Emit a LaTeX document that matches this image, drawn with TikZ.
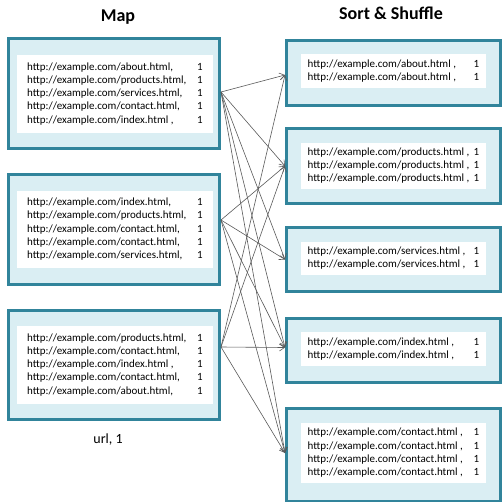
\documentclass[tikz,border=0pt]{standalone}
\usepackage{fontspec}
\setmainfont{Carlito}
\usetikzlibrary{arrows.meta}

\definecolor{boxedge}{HTML}{31849B}
\definecolor{boxfill}{HTML}{DAEEF3}
\definecolor{arrowgray}{HTML}{595959}

\begin{document}
\begin{tikzpicture}[
    x=1pt, y=-1pt, % pixel-like units, y downwards
    map_box/.style={draw=boxedge, fill=boxfill, line width=3pt, inner sep=0pt},
    rec_box/.style={fill=white, inner sep=0pt, font=\fontsize{11}{13.3}\selectfont},
    head_text/.style={font=\fontsize{18}{21}\selectfont\bfseries},
    flow_arrow/.style={-{Straight Barb[length=5pt,width=7pt]}, arrowgray, line width=0.6pt}
]
\useasboundingbox (0,0) rectangle (503,501);

% Column widths of the records
\def\lcol{170pt}
\def\rcol{166pt}

% Headings
\node[head_text] (maphead) at (118,17) {Map};
\node[head_text] (sorthead) at (391,13) {Sort \& Shuffle};

% Map boxes
\node[map_box, minimum width=211pt, minimum height=110pt] (m1) at (114,93.5) {};
\node[rec_box, minimum width=196pt, minimum height=78pt] (m1t) at (115,94) {%
\begin{tabular}{@{}p{\lcol}@{}l@{}}
http://example.com/about.html, & 1\\
http://example.com/products.html, & 1\\
http://example.com/services.html, & 1\\
http://example.com/contact.html, & 1\\
http://example.com/index.html , & 1
\end{tabular}};

\node[map_box, minimum width=211pt, minimum height=110pt] (m2) at (114,229.5) {};
\node[rec_box, minimum width=196pt, minimum height=77pt] (m2t) at (115,229.5) {%
\begin{tabular}{@{}p{\lcol}@{}l@{}}
http://example.com/index.html, & 1\\
http://example.com/products.html, & 1\\
http://example.com/contact.html, & 1\\
http://example.com/contact.html, & 1\\
http://example.com/services.html, & 1
\end{tabular}};

\node[map_box, minimum width=211pt, minimum height=109pt] (m3) at (114,365) {};
\node[rec_box, minimum width=196pt, minimum height=78pt] (m3t) at (115,365) {%
\begin{tabular}{@{}p{\lcol}@{}l@{}}
http://example.com/products.html, & 1\\
http://example.com/contact.html, & 1\\
http://example.com/index.html , & 1\\
http://example.com/contact.html, & 1\\
http://example.com/about.html, & 1
\end{tabular}};

\node[font=\fontsize{14}{17}\selectfont] (kv) at (108,440) {url, 1};

% Sort & Shuffle boxes
\node[map_box, minimum width=214pt, minimum height=65pt] (A) at (393.5,73) {};
\node[rec_box, minimum width=185pt, minimum height=34pt] (At) at (393.5,71) {%
\begin{tabular}{@{}p{\rcol}@{}l@{}}
http://example.com/about.html , & 1\\
http://example.com/about.html , & 1
\end{tabular}};

\node[map_box, minimum width=214pt, minimum height=75pt] (B) at (393.5,166) {};
\node[rec_box, minimum width=185pt, minimum height=46pt] (Bt) at (393.5,166) {%
\begin{tabular}{@{}p{\rcol}@{}l@{}}
http://example.com/products.html , & 1\\
http://example.com/products.html , & 1\\
http://example.com/products.html , & 1
\end{tabular}};

\node[map_box, minimum width=214pt, minimum height=64pt] (C) at (393.5,259.5) {};
\node[rec_box, minimum width=185pt, minimum height=33pt] (Ct) at (393.5,258.5) {%
\begin{tabular}{@{}p{\rcol}@{}l@{}}
http://example.com/services.html , & 1\\
http://example.com/services.html , & 1
\end{tabular}};

\node[map_box, minimum width=214pt, minimum height=64pt] (D) at (393.5,350.5) {};
\node[rec_box, minimum width=185pt, minimum height=34pt] (Dt) at (393.5,349) {%
\begin{tabular}{@{}p{\rcol}@{}l@{}}
http://example.com/index.html , & 1\\
http://example.com/index.html , & 1
\end{tabular}};

\node[map_box, minimum width=214pt, minimum height=93pt] (E) at (393.5,455) {};
\node[rec_box, minimum width=185pt, minimum height=60pt] (Et) at (393.5,453) {%
\begin{tabular}{@{}p{\rcol}@{}l@{}}
http://example.com/contact.html , & 1\\
http://example.com/contact.html , & 1\\
http://example.com/contact.html , & 1\\
http://example.com/contact.html , & 1
\end{tabular}};

% Arrow ends
\coordinate (s1) at ([yshift=1.5pt]m1.east);
\coordinate (s2) at ([yshift=9.5pt]m2.east);
\coordinate (s3) at ([yshift=18pt]m3.east);
\coordinate (tA) at ([yshift=-2pt]A.west);
\coordinate (tB) at (B.west);
\coordinate (tC) at (C.west);
\coordinate (tD) at ([yshift=3pt]D.west);
\coordinate (tE) at (E.west |- Et.west);

% Shuffle
\foreach \t in {A,B,C,E,D} \draw[flow_arrow] (s1) -- (t\t);
\foreach \t in {D,B,E,C} \draw[flow_arrow] (s2) -- (t\t);
\foreach \t in {B,E,D,A} \draw[flow_arrow] (s3) -- (t\t);

\end{tikzpicture}
\end{document}
